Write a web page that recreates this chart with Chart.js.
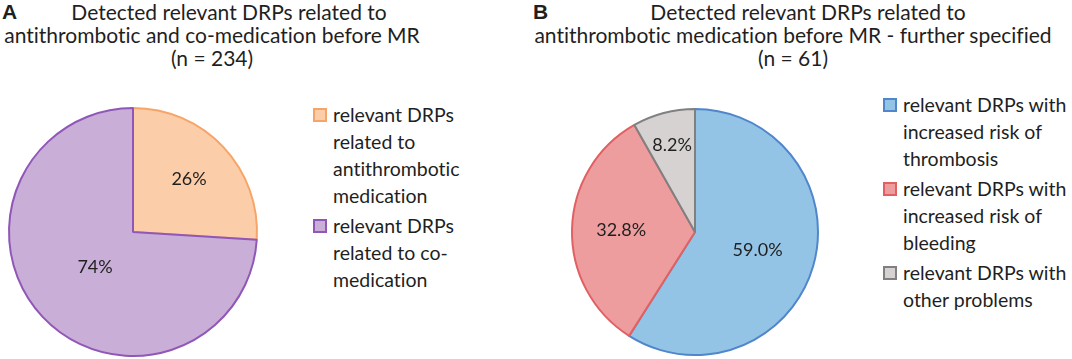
<!DOCTYPE html>
<html>
<head>
<meta charset="utf-8">
<script src="https://cdn.jsdelivr.net/npm/chart.js@4"></script>
<style>
  html, body { margin: 0; padding: 0; background: #fff; }
  body { width: 1072px; height: 359px; position: relative; overflow: hidden; font-family: Lato, "Open Sans", sans-serif; color: #1f1f1f; font-variant-ligatures: none; font-feature-settings: "liga" 0, "clig" 0; }
  .panel-letter { position: absolute; top: 0; font-weight: bold; font-size: 21px; line-height: 24px; font-family: "Liberation Sans", Arial, sans-serif; }
  .title { position: absolute; top: 0; text-align: center; font-size: 21px; line-height: 23px; white-space: nowrap; }
  .legend { position: absolute; font-size: 19.5px; line-height: 27px; white-space: nowrap; }
  .legend .item { position: relative; padding-left: 20px; margin-bottom: 3px; }
  .legend .box { position: absolute; left: 0; top: 7px; width: 10px; height: 10px; border: 2px solid; }
  .pie { position: absolute; width: 260px; height: 260px; }
</style>
</head>
<body>
<div class="panel-letter" style="left:2px;">A</div>
<div class="panel-letter" style="left:533px;">B</div>
<div class="title" id="titleA" style="left:0px; width:424px;"></div>
<div class="title" id="titleB" style="left:530px; width:526px;"></div>
<div class="pie" style="left:3px; top:102px;"><canvas id="pieA"></canvas></div>
<div class="pie" style="left:565px; top:102px;"><canvas id="pieB"></canvas></div>
<div class="legend" id="legendA" style="left:313px; top:101px;"></div>
<div class="legend" id="legendB" style="left:883px; top:91px;"></div>
<script>
// ---- data ----
const titleA = ["Detected relevant DRPs related to", "antithrombotic and co-medication before MR", "(n = 234)"];
const titleB = ["Detected relevant DRPs related to", "antithrombotic medication before MR - further specified", "(n = 61)"];

const categoriesA = [
  ["relevant DRPs", "related to", "antithrombotic", "medication"],
  ["relevant DRPs", "related to co-", "medication"]
];
const valuesA = [26, 74];
const percentLabelsA = ["26%", "74%"];

const categoriesB = [
  ["relevant DRPs with", "increased risk of", "thrombosis"],
  ["relevant DRPs with", "increased risk of", "bleeding"],
  ["relevant DRPs with", "other problems"]
];
const valuesB = [59.0, 32.8, 8.2];
const percentLabelsB = ["59.0%", "32.8%", "8.2%"];

// ---- styles ----
const fillA = ["#FBCDA9", "#C9AED8"];
const borderA = ["#F6A468", "#9157B8"];
const fillB = ["#93C4E6", "#EE9D9E", "#D6D2D2"];
const borderB = ["#4F86CC", "#E06063", "#808080"];

function buildTitle(id, lines, firstOffset) {
  const el = document.getElementById(id);
  lines.forEach((t, i) => {
    const d = document.createElement('div');
    d.textContent = t;
    if (i === 0) d.style.transform = 'translateX(' + firstOffset + 'px)';
    el.appendChild(d);
  });
}
buildTitle('titleA', titleA, 17);
buildTitle('titleB', titleB, 15);

function buildLegend(id, cats, fills, borders) {
  const el = document.getElementById(id);
  cats.forEach((lines, i) => {
    const item = document.createElement('div');
    item.className = 'item';
    const box = document.createElement('span');
    box.className = 'box';
    box.style.background = fills[i];
    box.style.borderColor = borders[i];
    item.appendChild(box);
    lines.forEach((l, j) => {
      if (j) item.appendChild(document.createElement('br'));
      item.appendChild(document.createTextNode(l));
    });
    el.appendChild(item);
  });
}
buildLegend('legendA', categoriesA, fillA, borderA);
buildLegend('legendB', categoriesB, fillB, borderB);

const pctPlugin = {
  id: 'pctLabels',
  afterDatasetsDraw(chart, args, opts) {
    const ctx = chart.ctx;
    const meta = chart.getDatasetMeta(0);
    ctx.save();
    ctx.font = '18px Lato, "Open Sans", sans-serif';
    ctx.fillStyle = '#1f1f1f';
    ctx.textAlign = 'center';
    ctx.textBaseline = 'middle';
    meta.data.forEach((arc, i) => {
      const p = arc.getProps(['x', 'y', 'startAngle', 'endAngle', 'outerRadius'], true);
      const mid = (p.startAngle + p.endAngle) / 2;
      const f = opts.ratios[i];
      ctx.fillText(opts.labels[i], p.x + Math.cos(mid) * p.outerRadius * f, p.y + Math.sin(mid) * p.outerRadius * f);
    });
    ctx.restore();
  }
};

function makePie(id, cats, values, fills, borders, labels, ratios, pad) {
  new Chart(document.getElementById(id), {
    type: 'pie',
    data: {
      labels: cats,
      datasets: [{ data: values, backgroundColor: fills, borderColor: borders, borderWidth: 2 }]
    },
    options: {
      responsive: true,
      maintainAspectRatio: false,
      animation: false,
      layout: { padding: pad },
      plugins: {
        legend: { display: false },
        tooltip: { enabled: false },
        pctLabels: { labels: labels, ratios: ratios }
      }
    },
    plugins: [pctPlugin]
  });
}
makePie('pieA', categoriesA, valuesA, fillA, borderA, percentLabelsA, [0.62, 0.42], 5);
makePie('pieB', categoriesB, valuesB, fillB, borderB, percentLabelsB, [0.53, 0.6, 0.73], 6);
</script>
</body>
</html>
